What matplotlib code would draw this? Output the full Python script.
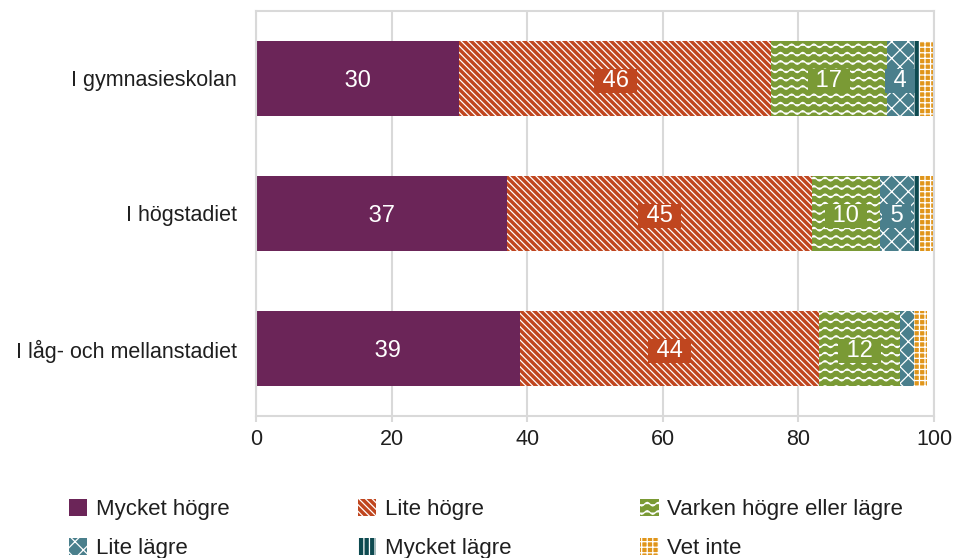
import numpy as np
import matplotlib
matplotlib.use('Agg')
import matplotlib.pyplot as plt
from matplotlib import hatch as mhatch
from matplotlib.path import Path
from matplotlib.patches import Patch


# wave hatch for the "Varken" segment, matplotlib has none built in
class WaveHatch(mhatch.HatchPatternBase):

    periods = 9
    steps = 72

    def __init__(self, hatch, density):
        self.num_lines = int(hatch.count('~') * density)
        self.num_vertices = self.num_lines * (self.steps + 1)

    def set_vertices_and_codes(self, vertices, codes):
        rows = np.linspace(0.0, 1.0, self.num_lines, endpoint=False)
        rows += 0.5 / max(self.num_lines, 1)
        t = np.linspace(0.0, 1.0, self.steps + 1)
        n = self.steps + 1
        for i, y0 in enumerate(rows):
            vertices[i * n:(i + 1) * n, 0] = t
            vertices[i * n:(i + 1) * n, 1] = y0 + 0.018 * np.sin(2 * np.pi * self.periods * t)
            codes[i * n] = Path.MOVETO
            codes[i * n + 1:(i + 1) * n] = Path.LINETO


mhatch._hatch_types.append(WaveHatch)

plt.rcParams['font.family'] = ['Liberation Sans', 'DejaVu Sans']
plt.rcParams['hatch.linewidth'] = 0.9

categories = ['I gymnasieskolan', 'I högstadiet', 'I låg- och mellanstadiet']

series_names = ['Mycket högre', 'Lite högre', 'Varken högre eller lägre',
                'Lite lägre', 'Mycket lägre', 'Vet inte']

mycket_hogre = [30, 37, 39]
lite_hogre   = [46, 45, 44]
varken       = [17, 10, 12]
lite_lagre   = [4, 5, 2]
mycket_lagre = [1, 1, 0]
vet_inte     = [2, 2, 2]

values = [mycket_hogre, lite_hogre, varken, lite_lagre, mycket_lagre, vet_inte]

colors  = ['#6b2558', '#c0461f', '#7a9a35', '#4a7f8c', '#0e4a50', '#e0951a']
hatches = [None, '\\\\\\\\\\', '~~', 'xx', '|||', '+++']

text_col = '#1f1f1f'

fig = plt.figure(figsize=(9.6, 5.58), dpi=100)
ax = fig.add_axes([0.2667, 0.2545, 0.7062, 0.7258])

y = np.arange(len(categories))
left = np.zeros(len(categories))

handles = []
for name, vals, col, h in zip(series_names, values, colors, hatches):
    vals = np.array(vals, dtype=float)
    ax.barh(y, vals, left=left, height=0.56, color=col,
            edgecolor='white' if h else col, linewidth=0, hatch=h, zorder=2)
    for yi, (l, v) in enumerate(zip(left, vals)):
        if v >= 4:
            ax.text(l + v / 2, yi, ' %d ' % v, ha='center', va='center_baseline',
                    color='white', fontsize=17, zorder=4,
                    bbox=dict(facecolor=col, edgecolor='none', pad=1))
    left += vals
    handles.append(Patch(facecolor=col, edgecolor='white' if h else col,
                         linewidth=0, hatch=h))

ax.set_xlim(0, 100)
ax.set_ylim(2.5, -0.5)
ax.set_xticks(np.arange(0, 101, 20))
ax.set_yticks(y)
ax.set_yticklabels(categories)
ax.tick_params(axis='y', length=0, pad=14, labelsize=15.5, labelcolor=text_col)
ax.tick_params(axis='x', length=4.5, width=1.5, color='#d9d9d9', pad=5,
               labelsize=15.5, labelcolor=text_col)
ax.grid(axis='x', color='#d9d9d9', linewidth=1.5, zorder=0)
ax.set_axisbelow(True)
for s in ax.spines.values():
    s.set_color('#d9d9d9')
    s.set_linewidth(1.5)

# legend: three columns of two entries
col_x = [0.072, 0.373, 0.667]
for c in range(3):
    hs = [handles[c], handles[c + 3]]
    ls = [series_names[c], series_names[c + 3]]
    fig.legend(hs, ls, loc='upper left', bbox_to_anchor=(col_x[c], 0.106),
               frameon=False, fontsize=16, handlelength=0.82, handleheight=0.82,
               handletextpad=0.4, labelspacing=0.78, borderaxespad=0,
               borderpad=0, labelcolor=text_col)

fig.savefig('out.png', dpi=100)
